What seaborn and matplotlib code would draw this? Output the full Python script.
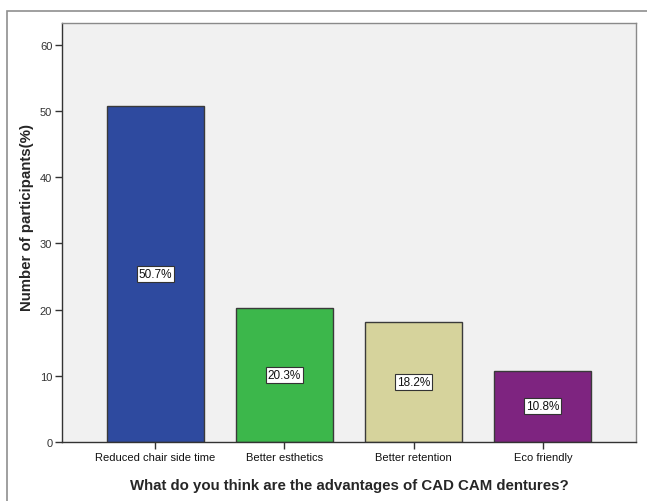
import matplotlib
matplotlib.use("Agg")
import matplotlib.pyplot as plt
from matplotlib.patches import Rectangle
import seaborn as sns
import pandas as pd

categories = ["Reduced chair side time", "Better esthetics", "Better retention", "Eco friendly"]
percentages = [50.7, 20.3, 18.2, 10.8]
bar_colors = ["#2E4A9F", "#3CB74B", "#D6D39C", "#7E2480"]
y_ticks = [0, 10, 20, 30, 40, 50, 60]

sns.set_style("white")
plt.rcParams["font.family"] = ["Liberation Sans", "DejaVu Sans"]

df = pd.DataFrame({"advantage": categories, "pct": percentages})

fig = plt.figure(figsize=(6.47, 5.02), dpi=100)
fig.patch.set_facecolor("white")
ax = fig.add_axes([62 / 647, 1 - 443 / 502, (636 - 62) / 647, (443 - 24) / 502])
ax.set_facecolor("#F1F1F1")

sns.barplot(data=df, x="advantage", y="pct", hue="advantage", order=categories,
            palette=bar_colors, width=0.75, edgecolor="#3A3A3A", linewidth=1.0,
            legend=False, ax=ax, saturation=1)

ax.set_xlim(-0.72, 3.72)
ax.set_ylim(0, 63.3)
ax.set_yticks(y_ticks)
ax.set_yticklabels([str(t) for t in y_ticks], fontsize=8, color="#333333")
ax.set_xticks(range(len(categories)))
ax.set_xticklabels(categories, fontsize=8, color="#111111")
ax.tick_params(axis="both", direction="out", length=5, width=1, color="#333333",
               left=True, bottom=True, pad=2)

for side in ["left", "bottom"]:
    ax.spines[side].set_color("#333333")
    ax.spines[side].set_linewidth(1.0)
for side in ["top", "right"]:
    ax.spines[side].set_color("#8A8A8A")
    ax.spines[side].set_linewidth(1.0)

ax.set_ylabel("Number of participants(%)", fontsize=10.8, fontweight="bold")
ax.yaxis.set_label_coords(-0.048, 0.537)
ax.set_xlabel("What do you think are the advantages of CAD CAM dentures?",
              fontsize=10.8, fontweight="bold", labelpad=12)

# value labels at bar mid-height
for i, v in enumerate(percentages):
    ax.text(i, v / 2, f"{v:.1f}%", ha="center", va="center", fontsize=8.5, color="#111111",
            bbox=dict(boxstyle="square,pad=0.15", facecolor="white", edgecolor="#333333", linewidth=0.8))

# outer chart frame
fig.patches.append(Rectangle((7 / 647, -0.05), 1.2, (502 - 12) / 502 + 0.05,
                             transform=fig.transFigure, fill=False,
                             edgecolor="#8F8F8F", linewidth=1.2))

fig.savefig("out.png", dpi=100)
